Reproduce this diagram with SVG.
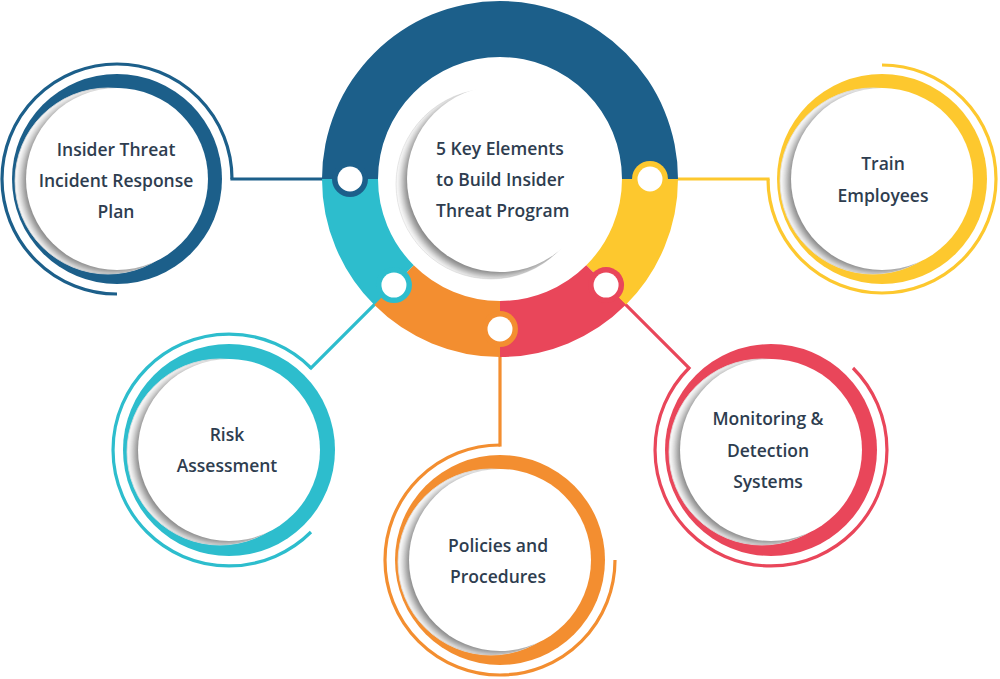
<svg xmlns="http://www.w3.org/2000/svg" xmlns:xlink="http://www.w3.org/1999/xlink" width="1000" height="679" viewBox="0 0 1000 679">
<style>
  .lbl { font-family: "Open Sans", "Liberation Sans", sans-serif; font-weight: 600; font-size: 17.5px; fill: #2e3d4f; }
  .mid { text-anchor: middle; }
  .thin { fill: none; stroke-width: 3.2; }
  .conn { fill: none; stroke-width: 3.2; stroke-linecap: square; }
  .blue { fill: #1c5f8a; } .cyan { fill: #2dbdcd; } .orange { fill: #f38e30; } .red { fill: #e9465a; } .yellow { fill: #fdc82e; }
  .s-blue { stroke: #1c5f8a; } .s-cyan { stroke: #2dbdcd; } .s-orange { stroke: #f38e30; } .s-red { stroke: #e9465a; } .s-yellow { stroke: #fdc82e; }
</style>
<defs>
  <filter id="sblur" x="-30%" y="-30%" width="160%" height="160%">
    <feGaussianBlur stdDeviation="4"/>
  </filter>
  <clipPath id="backClip"><circle cx="-9" cy="2" r="93"/></clipPath>
  <clipPath id="backClipC"><circle cx="-9" cy="5" r="95"/></clipPath>
  <g id="face">
    <circle cx="-9" cy="2" r="93" fill="#fff" stroke="#e2e2e2" stroke-width="0.8"/>
    <g clip-path="url(#backClip)"><circle cx="-4" cy="3" r="91" fill="#7d7d7d" filter="url(#sblur)"/></g>
    <circle r="91" fill="#fff"/>
  </g>
  <g id="faceC">
    <circle cx="-9" cy="5" r="95" fill="#fff" stroke="#e2e2e2" stroke-width="0.8"/>
    <g clip-path="url(#backClipC)"><circle cx="-4" cy="4" r="93" fill="#7d7d7d" filter="url(#sblur)"/></g>
    <circle r="93" fill="#fff"/>
  </g>
  <g id="knobHole"><circle r="12.5" fill="#fff"/></g>
</defs>

<g id="connectors">
  <path class="conn s-blue" d="M350 179 H232"/>
  <path class="conn s-yellow" d="M650 179 H768"/>
  <path class="conn s-cyan" d="M393.9 285.1 L311 368"/>
  <path class="conn s-orange" d="M500 329 V445"/>
  <path class="conn s-red" d="M606.1 285.1 L689 368"/>
</g>

<g id="center">
  <path class="blue" d="M322 179 A178 178 0 0 1 678 179 L622 179 A122 122 0 0 0 378 179 Z"/>
  <path class="yellow" d="M678 179 A178 178 0 0 1 625.86 304.86 L586.27 265.27 A122 122 0 0 0 622 179 Z"/>
  <path class="red" d="M625.86 304.86 A178 178 0 0 1 500 357 L500 301 A122 122 0 0 0 586.27 265.27 Z"/>
  <path class="orange" d="M500 357 A178 178 0 0 1 374.14 304.86 L413.73 265.27 A122 122 0 0 0 500 301 Z"/>
  <path class="cyan" d="M374.14 304.86 A178 178 0 0 1 322 179 L378 179 A122 122 0 0 0 413.73 265.27 Z"/>
  <circle class="blue" cx="350" cy="179" r="18"/><use href="#knobHole" x="350" y="179"/>
  <circle class="cyan" cx="393.93" cy="285.07" r="18"/><use href="#knobHole" x="393.93" y="285.07"/>
  <circle class="orange" cx="500" cy="329" r="18"/><use href="#knobHole" x="500" y="329"/>
  <circle class="red" cx="606.07" cy="285.07" r="18"/><use href="#knobHole" x="606.07" y="285.07"/>
  <circle class="yellow" cx="650" cy="179" r="18"/><use href="#knobHole" x="650" y="179"/>
  <use href="#faceC" x="500" y="179"/>
  <text class="lbl" x="436" y="155">5 Key Elements</text>
  <text class="lbl" x="436" y="186">to Build Insider</text>
  <text class="lbl" x="436" y="217">Threat Program</text>
</g>

<g id="node-incident-response">
  <path class="thin s-blue" d="M232 179 A115 115 0 1 0 117 294"/>
  <circle class="blue" cx="117" cy="179" r="105"/>
  <use href="#face" x="117" y="179"/>
  <text class="lbl mid" x="116" y="156">Insider Threat</text>
  <text class="lbl mid" x="116" y="187">Incident Response</text>
  <text class="lbl mid" x="116" y="218">Plan</text>
</g>

<g id="node-train">
  <path class="thin s-yellow" d="M768 179 A114 114 0 1 0 882 65"/>
  <circle class="yellow" cx="882" cy="179" r="105"/>
  <use href="#face" x="882" y="179"/>
  <text class="lbl mid" x="883" y="170">Train</text>
  <text class="lbl mid" x="883" y="202">Employees</text>
</g>

<g id="node-risk">
  <path class="thin s-cyan" d="M311 368 A116 116 0 1 0 311 532"/>
  <circle class="cyan" cx="229" cy="450" r="106"/>
  <use href="#face" x="229" y="450"/>
  <text class="lbl mid" x="227" y="441">Risk</text>
  <text class="lbl mid" x="227" y="472">Assessment</text>
</g>

<g id="node-policies">
  <path class="thin s-orange" d="M500 445 A115 115 0 1 0 615 560"/>
  <circle class="orange" cx="500" cy="560" r="105"/>
  <use href="#face" x="500" y="560"/>
  <text class="lbl mid" x="498" y="552">Policies and</text>
  <text class="lbl mid" x="498" y="583">Procedures</text>
</g>

<g id="node-monitoring">
  <path class="thin s-red" d="M689 368 A116 116 0 1 0 853 368"/>
  <circle class="red" cx="771" cy="450" r="106"/>
  <use href="#face" x="771" y="450"/>
  <text class="lbl mid" x="768" y="425">Monitoring &amp;</text>
  <text class="lbl mid" x="768" y="457">Detection</text>
  <text class="lbl mid" x="768" y="488">Systems</text>
</g>
</svg>
